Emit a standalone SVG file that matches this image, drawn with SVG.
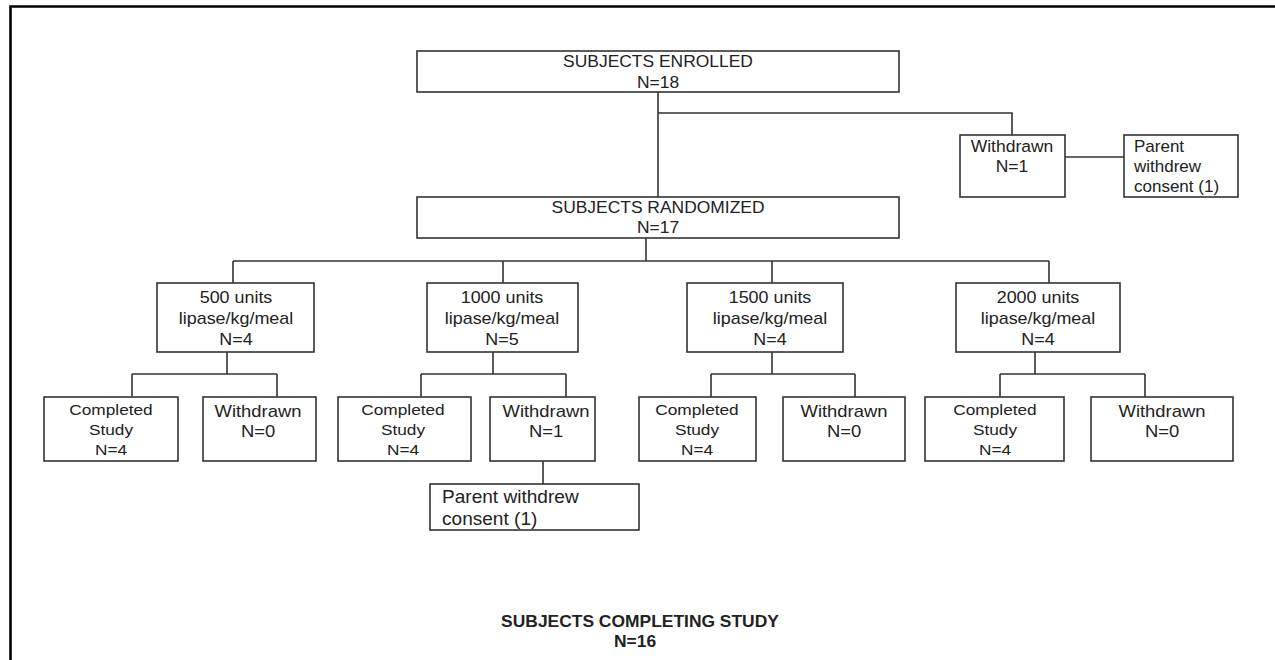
<svg xmlns="http://www.w3.org/2000/svg" width="1275" height="660" viewBox="0 0 1275 660">
<style>
.bg{fill:#ffffff}
.frame{fill:none;stroke:#000;stroke-width:2.6}
.box{fill:#fff;stroke:#333;stroke-width:1.6}
.conn path{fill:none;stroke:#333;stroke-width:1.6}
text{font-family:"Liberation Sans",Arial,Helvetica,sans-serif;fill:#222}
.m{text-anchor:middle}
.s{text-anchor:start}
.f15{font-size:15px}
.f16{font-size:16px}
.f17{font-size:17px}
.f18{font-size:18px}
.b{font-weight:bold}
</style>
<rect class="bg" x="0" y="0" width="1275" height="660"/>
<path class="frame" d="M10.5 660 V6.5 H1275"/>
<g class="conn" id="connectors">
<path d="M658 92 V197"/>
<path d="M658 113 H1012 V135"/>
<path d="M1065 157 H1124"/>
<path d="M646 238 V261"/>
<path d="M233 261 H1049"/>
<path d="M233 261 V283 M503 261 V283 M772 261 V283 M1049 261 V283"/>
<path d="M227 352 V374 M132 374 H277 M132 374 V397 M277 374 V397"/>
<path d="M493 352 V374 M421 374 H566 M421 374 V397 M566 374 V397"/>
<path d="M772 352 V374 M711 374 H855 M711 374 V397 M855 374 V397"/>
<path d="M1035 352 V374 M1000 374 H1145 M1000 374 V397 M1145 374 V397"/>
<path d="M543 461 V484"/>
</g>
<g id="enrolled">
<rect class="box" x="417" y="51" width="482" height="41"/>
<text class="m f16" transform="translate(658,67) scale(1.09,1)">SUBJECTS ENROLLED</text>
<text class="m f16" transform="translate(658,88) scale(1.09,1)">N=18</text>
</g>
<g id="withdrawn-top">
<rect class="box" x="960" y="135" width="105" height="62"/>
<text class="m f17" transform="translate(1012,152) scale(1.03,1)">Withdrawn</text>
<text class="m f17" transform="translate(1012,172) scale(1.03,1)">N=1</text>
</g>
<g id="parent-top">
<rect class="box" x="1124" y="135" width="114" height="62"/>
<text class="s f17" x="1134" y="152">Parent</text>
<text class="s f17" x="1134" y="172">withdrew</text>
<text class="s f17" x="1134" y="192">consent (1)</text>
</g>
<g id="randomized">
<rect class="box" x="417" y="197" width="482" height="41"/>
<text class="m f16" transform="translate(658,213) scale(1.09,1)">SUBJECTS RANDOMIZED</text>
<text class="m f16" transform="translate(658,233) scale(1.09,1)">N=17</text>
</g>
<g id="dose500">
<rect class="box" x="157" y="283" width="157" height="69"/>
<text class="m f16" transform="translate(236,303) scale(1.12,1)">500 units</text>
<text class="m f16" transform="translate(236,324) scale(1.12,1)">lipase/kg/meal</text>
<text class="m f16" transform="translate(236,345) scale(1.12,1)">N=4</text>
</g>
<g id="dose1000">
<rect class="box" x="427" y="283" width="151" height="69"/>
<text class="m f16" transform="translate(502,303) scale(1.12,1)">1000 units</text>
<text class="m f16" transform="translate(502,324) scale(1.12,1)">lipase/kg/meal</text>
<text class="m f16" transform="translate(502,345) scale(1.12,1)">N=5</text>
</g>
<g id="dose1500">
<rect class="box" x="687" y="283" width="156" height="69"/>
<text class="m f16" transform="translate(770,303) scale(1.12,1)">1500 units</text>
<text class="m f16" transform="translate(770,324) scale(1.12,1)">lipase/kg/meal</text>
<text class="m f16" transform="translate(770,345) scale(1.12,1)">N=4</text>
</g>
<g id="dose2000">
<rect class="box" x="956" y="283" width="164" height="69"/>
<text class="m f16" transform="translate(1038,303) scale(1.12,1)">2000 units</text>
<text class="m f16" transform="translate(1038,324) scale(1.12,1)">lipase/kg/meal</text>
<text class="m f16" transform="translate(1038,345) scale(1.12,1)">N=4</text>
</g>
<g id="completed500">
<rect class="box" x="44" y="397" width="134" height="64"/>
<text class="m f15" transform="translate(111,415) scale(1.15,1)">Completed</text>
<text class="m f15" transform="translate(111,435) scale(1.15,1)">Study</text>
<text class="m f15" transform="translate(111,455) scale(1.15,1)">N=4</text>
</g>
<g id="withdrawn500">
<rect class="box" x="203" y="397" width="113" height="64"/>
<text class="m f16" transform="translate(258,417) scale(1.15,1)">Withdrawn</text>
<text class="m f16" transform="translate(258,437) scale(1.15,1)">N=0</text>
</g>
<g id="completed1000">
<rect class="box" x="338" y="397" width="133" height="64"/>
<text class="m f15" transform="translate(403,415) scale(1.15,1)">Completed</text>
<text class="m f15" transform="translate(403,435) scale(1.15,1)">Study</text>
<text class="m f15" transform="translate(403,455) scale(1.15,1)">N=4</text>
</g>
<g id="withdrawn1000">
<rect class="box" x="490" y="397" width="105" height="64"/>
<text class="m f16" transform="translate(546,417) scale(1.15,1)">Withdrawn</text>
<text class="m f16" transform="translate(546,437) scale(1.15,1)">N=1</text>
</g>
<g id="completed1500">
<rect class="box" x="639" y="397" width="117" height="64"/>
<text class="m f15" transform="translate(697,415) scale(1.15,1)">Completed</text>
<text class="m f15" transform="translate(697,435) scale(1.15,1)">Study</text>
<text class="m f15" transform="translate(697,455) scale(1.15,1)">N=4</text>
</g>
<g id="withdrawn1500">
<rect class="box" x="783" y="397" width="122" height="64"/>
<text class="m f16" transform="translate(844,417) scale(1.15,1)">Withdrawn</text>
<text class="m f16" transform="translate(844,437) scale(1.15,1)">N=0</text>
</g>
<g id="completed2000">
<rect class="box" x="925" y="397" width="139" height="64"/>
<text class="m f15" transform="translate(995,415) scale(1.15,1)">Completed</text>
<text class="m f15" transform="translate(995,435) scale(1.15,1)">Study</text>
<text class="m f15" transform="translate(995,455) scale(1.15,1)">N=4</text>
</g>
<g id="withdrawn2000">
<rect class="box" x="1091" y="397" width="142" height="64"/>
<text class="m f16" transform="translate(1162,417) scale(1.15,1)">Withdrawn</text>
<text class="m f16" transform="translate(1162,437) scale(1.15,1)">N=0</text>
</g>
<g id="parent-bottom">
<rect class="box" x="430" y="484" width="209" height="46"/>
<text class="s f18" transform="translate(442,503) scale(1.06,1)">Parent withdrew</text>
<text class="s f18" transform="translate(442,525) scale(1.06,1)">consent (1)</text>
</g>
<g id="completing">
<text class="m f16 b" transform="translate(640,627) scale(1.09,1)">SUBJECTS COMPLETING STUDY</text>
<text class="m f16 b" transform="translate(635,647) scale(1.09,1)">N=16</text>
</g>
</svg>
